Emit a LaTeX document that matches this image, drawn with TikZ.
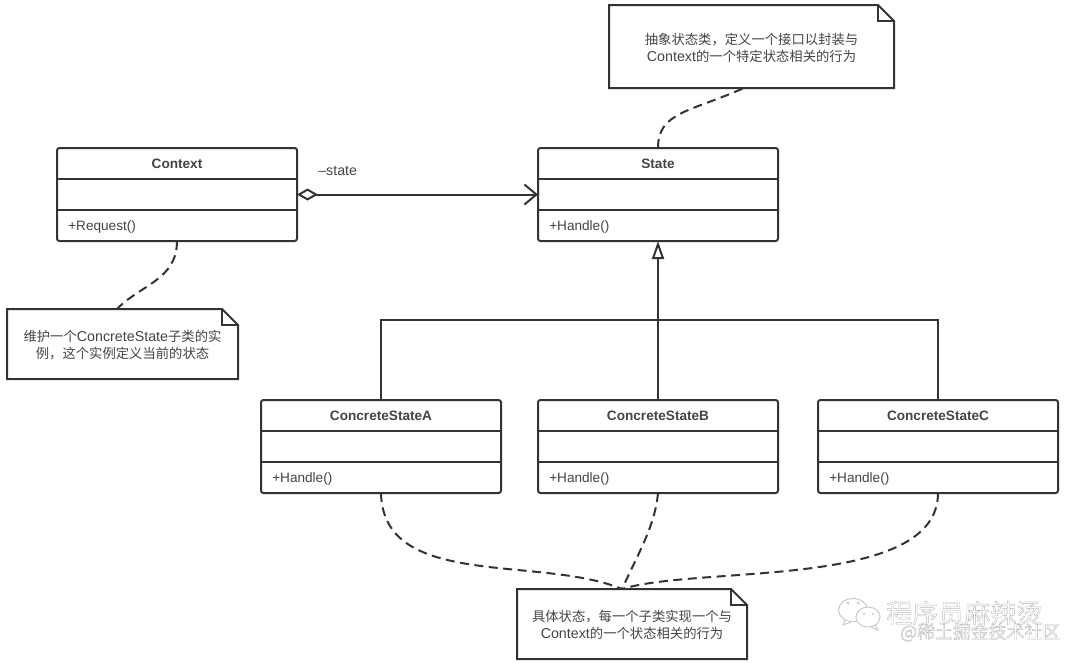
\documentclass[tikz,border=0pt]{standalone}
\usepackage{fontspec}
\setmainfont{Liberation Sans}
\newfontfamily\cjkfont{Noto Sans CJK SC}
\usetikzlibrary{arrows.meta,calc}
\definecolor{ink}{HTML}{333333}
\definecolor{txt}{HTML}{444444}
\definecolor{wmgray}{HTML}{C8C8C8}
\def\px{0.75pt}
\newcommand{\zh}[1]{{\cjkfont\fontsize{10}{12.9}\selectfont #1}}
\newcommand{\hollow}[1]{\special{pdf:code q 1 Tr 0.3 w 0.72 0.72 0.72 RG}#1\special{pdf:code Q}}
\tikzset{
  umlbox/.style={draw=ink,line width=1.5pt,rounded corners=1.8pt,fill=white,minimum width=240*\px,minimum height=93*\px,inner sep=0pt,outer sep=0pt},
  umltitle/.style={font=\fontsize{10.2}{12}\selectfont\bfseries,text=txt,inner sep=0pt},
  umlmethod/.style={font=\fontsize{10.2}{12}\selectfont,text=txt,inner sep=0pt,anchor=west},
  umlline/.style={draw=ink,line width=1.5pt},
  notetext/.style={font=\fontsize{10.7}{12.9}\selectfont,text=txt,align=center,inner sep=0pt,outer sep=0pt},
  noteline/.style={draw=ink,line width=1.5pt,line join=miter},
  dashlink/.style={draw=ink,line width=1.5pt,dash pattern=on 9*\px off 5.5*\px},
  wm/.style={text=wmgray,inner sep=0pt}
}
% name, left, top, title, method
\newcommand{\umlclass}[5]{%
  \node[umlbox,anchor=north west] (#1) at (#2,#3) {};
  \draw[umlline] ($(#1.north west)+(0,31)$) -- ($(#1.north east)+(0,31)$);
  \draw[umlline] ($(#1.north west)+(0,62)$) -- ($(#1.north east)+(0,62)$);
  \node[umltitle] (#1title) at ($(#1.north)+(0,16)$) {#4};
  \node[umlmethod] (#1method) at ($(#1.north west)+(11,79.3)$) {#5};
}
% name, left, top, width, height, text
\newcommand{\notebox}[6]{%
  \node[notetext,minimum width=#4*\px,minimum height=#5*\px,anchor=north west] (#1) at (#2,#3) {};
  \draw[noteline,fill=white] (#1.north west) -- ($(#1.north east)+(-16,0)$) -- ($(#1.north east)+(0,16)$) -- (#1.south east) -- (#1.south west) -- cycle;
  \draw[noteline] ($(#1.north east)+(-16,0)$) -- ($(#1.north east)+(-16,16)$) -- ($(#1.north east)+(0,16)$);
  \node[notetext] (#1label) at ($(#1)+(0,1)$) {#6};
}
\begin{document}
\begin{tikzpicture}[x=0.75pt,y=-0.75pt]
\useasboundingbox (0,0) rectangle (1080,662);

\notebox{topnote}{609}{5}{285}{83}{\zh{抽象状态类，定义一个接口以封装与}\\Context\zh{的一个特定状态相关的行为}}
\notebox{leftnote}{7}{309}{231}{70}{\zh{维护一个}ConcreteState\zh{子类的实}\\\zh{例，这个实例定义当前的状态}}
\notebox{botnote}{517}{589}{230}{70}{\zh{具体状态，每一个子类实现一个与}\\Context\zh{的一个状态相关的行为}}

\umlclass{context}{57}{148}{Context}{+Request()}
\umlclass{state}{538}{148}{State}{+Handle()}
\umlclass{csa}{261}{400}{ConcreteStateA}{+Handle()}
\umlclass{csb}{538}{400}{ConcreteStateB}{+Handle()}
\umlclass{csc}{818}{400}{ConcreteStateC}{+Handle()}

% association
\draw[umlline,{Diamond[open,length=21*\px,width=12*\px,line width=1.5pt]}-{Straight Barb[length=12*\px,width=20*\px,line width=1.5pt]}] (context.east) -- (state.west);
\node[font=\fontsize{10.7}{12}\selectfont,text=txt,inner sep=0pt,anchor=west] (statelabel) at (318,170.5) {–state};

% generalisation
\coordinate (junction) at (csb.north |- 0,320);
\draw[umlline,-{Triangle[open,length=18*\px,width=12*\px,line width=1.5pt]}] (csb.north) -- (state.south);
\draw[umlline] (csa.north) |- (junction);
\draw[umlline] (csc.north) |- (junction);

% note links
\coordinate (topnoteport) at ($(topnote.south west)+(135,0)$);
\coordinate (leftnoteport) at ($(leftnote.north west)+(110,0)$);
\coordinate (botnoteport) at ($(botnote.north west)+(105,0)$);
\draw[dashlink] (state.north) .. controls (658,112) and (690,112) .. (topnoteport);
\draw[dashlink] (context.south) .. controls (177,280) and (140,285) .. (leftnoteport);
\draw[dashlink] (csa.south) .. controls (383,590) and (540,555) .. (botnoteport);
\draw[dashlink] (csb.south) .. controls (655,525) and (640,550) .. (botnoteport);
\draw[dashlink] (csc.south) .. controls (938,590) and (700,565) .. (botnoteport);

% watermark
\draw[wmgray,line width=0.7pt,fill=white] (853,610) ellipse (14.5 and 11.5);
\draw[wmgray,line width=0.7pt] (845,620) -- (843,625) -- (851,622);
\draw[wmgray,line width=0.7pt,fill=white] (868,617) ellipse (12 and 10);
\draw[wmgray,line width=0.7pt] (875,625) -- (878,630) -- (871,627);
\fill[wmgray] (848,603) circle (1.5) (858,603) circle (1.5) (864,614) circle (1.2) (873,614) circle (1.2);
\node[wm,font=\cjkfont\fontsize{19.5}{20}\selectfont,anchor=west] (wmtitle) at (886,613) {\hollow{程序员麻辣烫}};
\node[wm,font=\cjkfont\fontsize{13.4}{14}\selectfont,anchor=west] (wmsite) at (900,632.5) {\hollow{@稀土掘金技术社区}};
\end{tikzpicture}
\end{document}
